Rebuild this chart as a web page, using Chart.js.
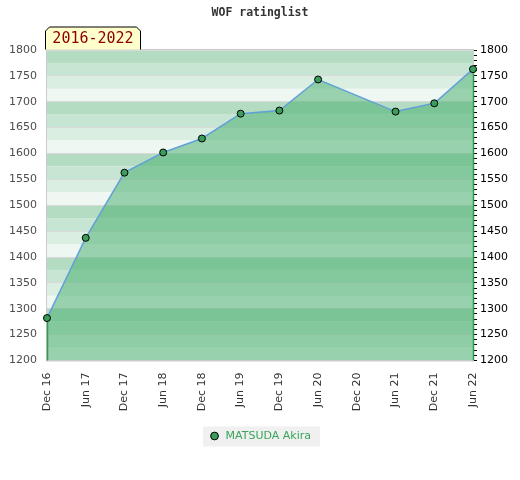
<!DOCTYPE html>
<html>
<head>
<meta charset="utf-8">
<title>WOF ratinglist</title>
<script src="https://cdn.jsdelivr.net/npm/chart.js@4/dist/chart.umd.min.js"></script>
<style>
  html, body { margin: 0; padding: 0; background: #fff; }
  #wrap { width: 520px; height: 480px; position: relative; }
</style>
</head>
<body>
<div id="wrap"><canvas id="rating"></canvas></div>
<script>
// rating list values
const PERIODS = ['Dec 16', 'Jun 17', 'Dec 17', 'Jun 18', 'Dec 18', 'Jun 19',
                 'Dec 19', 'Jun 20', 'Dec 20', 'Jun 21', 'Dec 21', 'Jun 22'];
const RATINGS = [1282, 1437, 1563, 1602, 1629, 1677, 1683, 1743, null, 1681, 1697, 1763];
const PLAYER = 'MATSUDA Akira';
const RANGE_LABEL = '2016-2022';
const Y_MIN = 1200;
const Y_MAX = 1800;
const Y_STEP = 50;
const MINOR_STEP = 10;

const BAND_COLORS = ['#b3dcc2', '#c6e5d2', '#dbeee2', '#eff7f2'];
const BAND_SIZE = 25;
const GREEN = '#3a9e5a';

// striped background behind the plot, in blocks of 100 points
const bandsPlugin = {
    id: 'bands',
    beforeDraw(chart) {
        const { ctx, chartArea: a, scales: { y } } = chart;
        ctx.save();
        for (let t = Y_MAX; t > Y_MIN; t -= BAND_SIZE) {
            const blockTop = Math.ceil(t / 100) * 100;
            const idx = Math.round((blockTop - t) / BAND_SIZE) % BAND_COLORS.length;
            const y0 = y.getPixelForValue(t);
            const y1 = y.getPixelForValue(t - BAND_SIZE);
            ctx.fillStyle = BAND_COLORS[idx];
            ctx.fillRect(a.left, y0, a.right - a.left, y1 - y0);
        }
        ctx.restore();

        // grey box behind the legend item
        const hb = chart.legend && chart.legend.legendHitBoxes && chart.legend.legendHitBoxes[0];
        if (hb) {
            const cy = hb.top + hb.height / 2;
            ctx.save();
            ctx.fillStyle = '#f0f0f0';
            ctx.fillRect(hb.left - 6, cy - 9.5, hb.width + 15, 20);
            ctx.restore();
        }
    },
    beforeDatasetsDraw(chart) {
        const { ctx, chartArea: a } = chart;
        ctx.save();
        ctx.strokeStyle = '#cccccc';
        ctx.lineWidth = 1;
        ctx.strokeRect(a.left - 0.5, a.top - 0.5, a.right - a.left + 1, a.bottom - a.top + 1);
        ctx.restore();
    },
    afterDatasetsDraw(chart) {
        // green edges of the filled area at the first and last point
        const { ctx, chartArea: a } = chart;
        const pts = chart.getDatasetMeta(0).data.filter((p, i) => RATINGS[i] !== null);
        const ends = [pts[0], pts[pts.length - 1]];
        ctx.save();
        ctx.strokeStyle = '#2f9a50';
        ctx.lineWidth = 1.5;
        ends.forEach(p => {
            ctx.beginPath();
            ctx.moveTo(Math.round(p.x) + 0.5, p.y + 4);
            ctx.lineTo(Math.round(p.x) + 0.5, a.bottom);
            ctx.stroke();
        });
        ctx.restore();
    },
    afterDraw(chart) {
        // period tab sitting on top of the plot
        const { ctx, chartArea: a } = chart;
        const l = a.left - 1.5, r = l + 95, b = a.top - 0.5, t = b - 22.5;
        ctx.save();
        ctx.beginPath();
        ctx.moveTo(l, b);
        ctx.lineTo(l, t + 4);
        ctx.lineTo(l + 4, t);
        ctx.lineTo(r - 4, t);
        ctx.lineTo(r, t + 4);
        ctx.lineTo(r, b);
        ctx.fillStyle = '#ffffcc';
        ctx.fill();
        ctx.strokeStyle = '#000';
        ctx.lineWidth = 1;
        ctx.stroke();
        ctx.fillStyle = '#8b0000';
        ctx.font = '15px "DejaVu Sans Mono", monospace';
        ctx.textBaseline = 'middle';
        ctx.textAlign = 'center';
        ctx.fillText(RANGE_LABEL, (l + r) / 2, t + 12);
        ctx.restore();
    }
};

const font = { family: '"DejaVu Sans", sans-serif', size: 11 };

new Chart(document.getElementById('rating'), {
    type: 'line',
    data: {
        labels: PERIODS,
        datasets: [{
            label: PLAYER,
            data: RATINGS,
            spanGaps: true,
            fill: 'start',
            backgroundColor: 'rgba(71, 174, 109, 0.52)',
            borderColor: '#62a0d8',
            borderWidth: 1.5,
            tension: 0,
            pointRadius: 3.5,
            pointBorderWidth: 1,
            pointBackgroundColor: GREEN,
            pointBorderColor: '#000',
            yAxisID: 'y'
        }]
    },
    options: {
        responsive: true,
        maintainAspectRatio: false,
        animation: false,
        devicePixelRatio: 1,
        layout: { padding: { left: 0, right: 0, top: 0, bottom: 28.5 } },
        scales: {
            x: {
                type: 'category',
                offset: false,
                grid: { display: false, drawTicks: false },
                border: { display: false },
                ticks: {
                    font, color: '#333',
                    minRotation: 90, maxRotation: 90,
                    padding: 12, autoSkip: false
                },
                afterFit(s) { s.height = 60; }
            },
            y: {
                position: 'left',
                min: Y_MIN, max: Y_MAX,
                grid: { color: '#d9d9d9', drawTicks: false },
                border: { display: false },
                ticks: {
                    font, color: '#4d4d4d', stepSize: Y_STEP, padding: 10,
                    callback: v => String(v)
                },
                afterFit(s) { s.width = 47; }
            },
            y2: {
                position: 'right',
                min: Y_MIN, max: Y_MAX,
                grid: {
                    drawOnChartArea: false,
                    drawTicks: true,
                    tickLength: 4,
                    tickColor: '#000'
                },
                border: { display: true, color: '#cccccc' },
                ticks: {
                    font, color: '#000', padding: 3, autoSkip: false,
                    callback: v => (v % Y_STEP === 0 ? String(v) : '')
                },
                afterBuildTicks(s) {
                    const ticks = [];
                    for (let v = Y_MIN; v <= Y_MAX; v += MINOR_STEP) ticks.push({ value: v });
                    s.ticks = ticks;
                },
                afterFit(s) { s.width = 47; }
            }
        },
        plugins: {
            title: {
                display: true,
                text: 'WOF ratinglist',
                color: '#333',
                font: { family: '"DejaVu Sans Mono", monospace', size: 11.5, weight: 'bold' },
                padding: { top: 6, bottom: 30.2 }
            },
            legend: {
                display: true,
                position: 'bottom',
                labels: {
                    font, color: '#3aa45b',
                    usePointStyle: true,
                    boxHeight: 5.5,
                    padding: 10,
                    generateLabels(chart) {
                        return Chart.defaults.plugins.legend.labels.generateLabels(chart).map(it => {
                            it.fillStyle = GREEN;
                            it.strokeStyle = '#000';
                            it.lineWidth = 1;
                            it.pointStyle = 'circle';
                            it.fontColor = '#3aa45b';
                            return it;
                        });
                    }
                }
            },
            tooltip: { enabled: false }
        }
    },
    plugins: [bandsPlugin]
});
</script>
</body>
</html>
